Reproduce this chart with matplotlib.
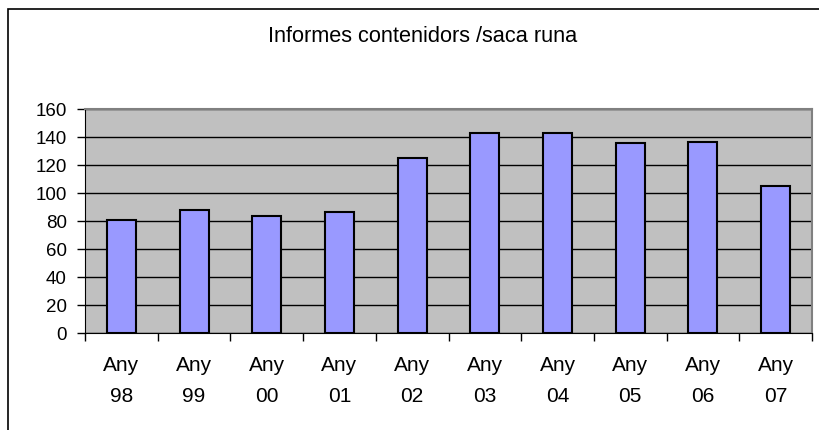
import matplotlib

matplotlib.use("Agg")
import matplotlib.pyplot as plt
from matplotlib.patches import Rectangle
import numpy as np


years = ["98", "99", "00", "01", "02", "03", "04", "05", "06", "07"]
labels = [f"Any\n{y}" for y in years]
values = [81, 88, 84, 87, 125, 143, 143, 136, 137, 105]
y_ticks = [0, 20, 40, 60, 80, 100, 120, 140, 160]

plt.rcParams["font.family"] = ["Liberation Sans", "DejaVu Sans"]

fig = plt.figure(figsize=(8.19, 4.30), dpi=100)
ax = fig.add_axes([85 / 819, 1 - 333.3 / 430, 727 / 819, 224 / 430])

# marc exterior del gràfic (només es veuen la vora superior i l'esquerra)
fig.patches.append(
    Rectangle((8 / 819, -0.1), 1.2, 1.1 - 9 / 430, transform=fig.transFigure,
              fill=False, edgecolor="black", linewidth=1.2)
)

x = np.arange(len(values))
ax.set_facecolor("#C0C0C0")
ax.set_axisbelow(True)
ax.grid(axis="y", color="black", linewidth=1)
ax.bar(x, values, width=0.4, color="#9999FF", edgecolor="black", linewidth=1.5, zorder=3)

ax.set_xlim(-0.5, len(values) - 0.5)
ax.set_ylim(0, 160)
ax.set_yticks(y_ticks)
ax.tick_params(axis="y", length=6, width=1, labelsize=13.5, pad=7)

# separadors de categoria a baix, etiquetes centrades
ax.set_xticks(np.arange(len(values) + 1) - 0.5)
ax.set_xticklabels([])
ax.tick_params(axis="x", which="major", length=6, width=1, direction="out")
ax.set_xticks(x, minor=True)
ax.set_xticklabels(labels, minor=True, fontsize=15, linespacing=1.8)
ax.tick_params(axis="x", which="minor", length=0, pad=16)

for side in ["top", "right"]:
    ax.spines[side].set_color("#808080")
    ax.spines[side].set_linewidth(1.5)
for side in ["left", "bottom"]:
    ax.spines[side].set_color("black")

fig.text(423 / 819, 1 - 37 / 430, "Informes contenidors /saca runa",
         ha="center", va="center", fontsize=15.7)

fig.savefig("out.png", dpi=100)
